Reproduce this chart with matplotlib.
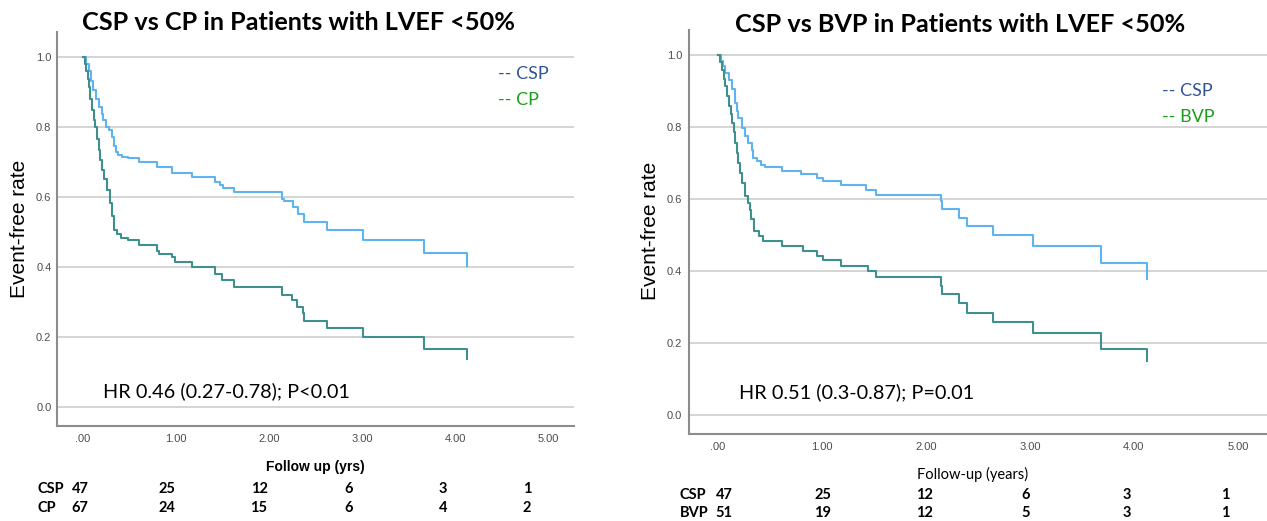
import numpy as np
import matplotlib.pyplot as plt

# --- data (time in years, event-free rate) ---
csp1_t = [0, 0.03, 0.06, 0.09, 0.11, 0.14, 0.17, 0.20, 0.22, 0.25, 0.28, 0.31, 0.33, 0.35, 0.38, 0.42,
          0.48, 0.60, 0.80, 0.96, 1.17, 1.42, 1.47, 1.50, 1.62, 2.14, 2.16, 2.26, 2.31, 2.38, 2.62, 3.01, 3.67, 4.13]
csp1_s = [1.0, 0.98, 0.96, 0.93, 0.905, 0.88, 0.857, 0.835, 0.82, 0.80, 0.79, 0.77, 0.745, 0.728, 0.72, 0.714,
          0.71, 0.70, 0.684, 0.667, 0.655, 0.643, 0.633, 0.624, 0.614, 0.595, 0.588, 0.571, 0.552, 0.527, 0.505, 0.478, 0.44, 0.402]

cp_t = [0, 0.02, 0.03, 0.05, 0.06, 0.08, 0.10, 0.12, 0.13, 0.15, 0.17, 0.18, 0.20, 0.23, 0.26, 0.29, 0.31, 0.33,
        0.37, 0.41, 0.48, 0.60, 0.80, 0.82, 0.96, 0.99, 1.17, 1.42, 1.49, 1.62, 2.14, 2.25, 2.30, 2.37, 2.38, 2.62, 3.01, 3.67, 4.13]
cp_s = [1.0, 0.98, 0.96, 0.935, 0.914, 0.88, 0.848, 0.82, 0.80, 0.765, 0.733, 0.705, 0.676, 0.65, 0.62, 0.581, 0.545, 0.505,
        0.495, 0.481, 0.478, 0.462, 0.445, 0.438, 0.429, 0.414, 0.40, 0.381, 0.362, 0.343, 0.319, 0.305, 0.286, 0.267, 0.246, 0.226, 0.20, 0.167, 0.138]

csp2_t = [0, 0.03, 0.05, 0.07, 0.10, 0.13, 0.16, 0.18, 0.19, 0.23, 0.26, 0.29, 0.33, 0.34, 0.37, 0.41, 0.45,
          0.61, 0.80, 0.95, 1.01, 1.18, 1.42, 1.52, 2.14, 2.15, 2.32, 2.39, 2.64, 3.03, 3.68, 4.13]
csp2_s = [1.0, 0.985, 0.97, 0.951, 0.93, 0.905, 0.867, 0.845, 0.826, 0.798, 0.774, 0.756, 0.735, 0.715, 0.705, 0.695, 0.689,
          0.679, 0.668, 0.658, 0.650, 0.638, 0.624, 0.612, 0.593, 0.572, 0.547, 0.526, 0.50, 0.468, 0.422, 0.378]

bvp_t = [0, 0.02, 0.04, 0.06, 0.07, 0.09, 0.10, 0.12, 0.13, 0.15, 0.16, 0.18, 0.19, 0.21, 0.23, 0.26, 0.29, 0.31, 0.32,
         0.35, 0.39, 0.43, 0.61, 0.82, 0.95, 1.01, 1.18, 1.44, 1.52, 2.14, 2.15, 2.32, 2.39, 2.64, 3.03, 3.68, 4.13]
bvp_s = [1.0, 0.98, 0.96, 0.935, 0.914, 0.885, 0.858, 0.835, 0.812, 0.785, 0.756, 0.728, 0.70, 0.672, 0.645, 0.607, 0.59, 0.57, 0.543,
         0.51, 0.496, 0.482, 0.468, 0.454, 0.442, 0.431, 0.413, 0.399, 0.383, 0.357, 0.336, 0.311, 0.283, 0.258, 0.227, 0.183, 0.148]

xticks = [0, 1, 2, 3, 4, 5]
xtick_labels = [".00", "1.00", "2.00", "3.00", "4.00", "5.00"]
yticks = [0.0, 0.2, 0.4, 0.6, 0.8, 1.0]

risk_csp1 = [47, 25, 12, 6, 3, 1]
risk_cp = [67, 24, 15, 6, 4, 2]
risk_csp2 = [47, 25, 12, 6, 3, 1]
risk_bvp = [51, 19, 12, 5, 3, 1]

W, H = 1267, 521
fig = plt.figure(figsize=(W / 100, H / 100), dpi=100)

C_CSP = "#5fb3ee"
C_CTRL = "#3f8f8d"


def px(x, y):
    return x / W, 1 - y / H


def make_panel(rect, t1, s1, t2, s2, ypad):
    ax = fig.add_axes(rect)
    ax.step(t1, s1, where="post", color=C_CSP, lw=1.5)
    ax.step(t2, s2, where="post", color=C_CTRL, lw=1.5)
    ax.set_xlim(-0.28, 5.28)
    ax.set_ylim(-0.054, 1.07)
    ax.set_xticks(xticks)
    ax.set_xticklabels(xtick_labels)
    ax.set_yticks(yticks)
    ax.set_yticklabels([f"{v:.1f}" for v in yticks])
    ax.tick_params(length=0, labelsize=8, labelcolor="#4d4d4d")
    ax.tick_params(axis="x", pad=6)
    ax.tick_params(axis="y", pad=ypad)
    for lab in ax.get_xticklabels() + ax.get_yticklabels():
        lab.set_family("Liberation Sans")
    ax.grid(axis="y", color="#d4d4d4", lw=1.4)
    ax.set_axisbelow(True)
    for s in ["top", "right"]:
        ax.spines[s].set_visible(False)
    for s in ["left", "bottom"]:
        ax.spines[s].set_color("#8c8c8c")
        ax.spines[s].set_linewidth(1.5)
    return ax


# left panel: x 57..574 px, y 32..426 px
make_panel([57 / W, 1 - 426 / H, 517 / W, 394 / H], csp1_t, csp1_s, cp_t, cp_s, 4)
# right panel: x 689..1267 px, y 30..434 px
make_panel([689 / W, 1 - 434 / H, 578 / W, 404 / H], csp2_t, csp2_s, bvp_t, bvp_s, 5)

# titles
fig.text(*px(298, 22), "CSP vs CP in Patients with LVEF <50%", ha="center", va="center",
         fontsize=18.2, fontweight="bold", family="Lato")
fig.text(*px(960, 25), "CSP vs BVP in Patients with LVEF <50%", ha="center", va="center",
         fontsize=18.2, fontweight="bold", family="Lato")

# y labels
fig.text(*px(20, 229), "Event-free rate", rotation=90, ha="center", va="center", fontsize=15, family="Liberation Sans")
fig.text(*px(650, 231), "Event-free rate", rotation=90, ha="center", va="center", fontsize=15, family="Liberation Sans")

# legend texts
fig.text(*px(498, 74), "-- CSP", ha="left", va="center", fontsize=13, color="#2f5597", family="Lato")
fig.text(*px(498, 100), "-- CP", ha="left", va="center", fontsize=13, color="#18a018", family="Lato")
fig.text(*px(1162, 91), "-- CSP", ha="left", va="center", fontsize=13, color="#2f5597", family="Lato")
fig.text(*px(1162, 117), "-- BVP", ha="left", va="center", fontsize=13, color="#18a018", family="Lato")

# hazard ratios
fig.text(*px(103, 391), "HR 0.46 (0.27-0.78); P<0.01", ha="left", va="center", fontsize=14.3, family="Lato")
fig.text(*px(739, 392), "HR 0.51 (0.3-0.87); P=0.01", ha="left", va="center", fontsize=14.3, family="Lato")

# x labels
fig.text(*px(315, 467), "Follow up (yrs)", ha="center", va="center", fontsize=10, fontweight="bold", family="Liberation Sans")
fig.text(*px(973, 474), "Follow-up (years)", ha="center", va="center", fontsize=10.5, family="Lato")

# numbers at risk
left_cols = [80, 167, 259, 349, 443, 527]
right_cols = [724, 823, 924, 1026, 1127, 1225]
rows = [(37, 489, "CSP", risk_csp1, left_cols), (37, 508, "CP", risk_cp, left_cols),
        (680, 495, "CSP", risk_csp2, right_cols), (680, 513, "BVP", risk_bvp, right_cols)]
for x0, y0, name, vals, cols in rows:
    fig.text(*px(x0, y0), name, ha="left", va="center", fontsize=10.5, fontweight="bold", family="Lato")
    for cx, v in zip(cols, vals):
        fig.text(*px(cx, y0), str(v), ha="center", va="center", fontsize=10.5, fontweight="bold", family="Lato")

fig.savefig("out.png", dpi=100)
